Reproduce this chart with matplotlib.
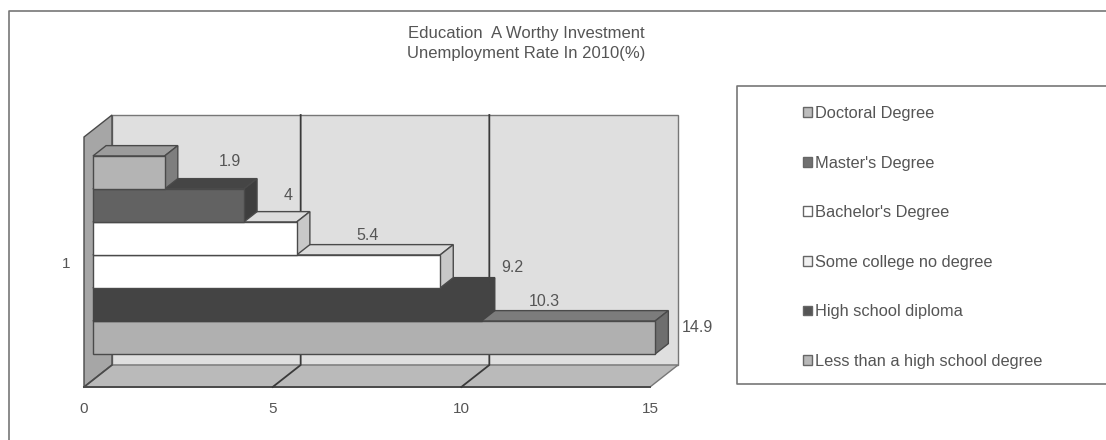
import matplotlib
matplotlib.use("Agg")
import matplotlib.pyplot as plt
from matplotlib.lines import Line2D
from matplotlib.patches import Patch, Polygon

series_names = ["Doctoral Degree", "Master's Degree", "Bachelor's Degree",
                "Some college no degree", "High school diploma",
                "Less than a high school degree"]
rates = [1.9, 4, 5.4, 9.2, 10.3, 14.9]
value_ticks = [0, 5, 10, 15]
category_ticks = [1]
title_text = "Education  A Worthy Investment\nUnemployment Rate In 2010(%)"

W, H = 1106, 440
FRONT = (84, 650, 137, 387)          # front plane in pixels: left, right, top, bottom
DEPTH_PX = (28, 22)
PX_X = 15 / (FRONT[1] - FRONT[0])
PX_Y = 1 / (FRONT[3] - FRONT[2])
DX, DY = DEPTH_PX[0] * PX_X, DEPTH_PX[1] * PX_Y
Z0, Z1 = 0.32, 0.79                  # bar position along the depth
BAR_H = 33 * PX_Y

front_col = ["#b4b4b4", "#626262", "#ffffff", "#ffffff", "#444444", "#b0b0b0"]
top_col = ["#9c9c9c", "#454545", "#dcdcdc", "#dcdcdc", "#444444", "#7c7c7c"]
side_col = ["#7e7e7e", "#3e3e3e", "#c8c8c8", "#c8c8c8", "#444444", "#6e6e6e"]
edge_col = ["#4a4a4a", "#4a4a4a", "#4a4a4a", "#4a4a4a", "#444444", "#4a4a4a"]
legend_col = ["#bdbdbd", "#707070", "#ffffff", "#f0f0f0", "#555555", "#b8b8b8"]
label_dx = [65, 44, 71, 72, 63, 42]
label_y = [161, 196, 235, 268, 302, 327]
TXT = "#555555"
EDGE = "#4a4a4a"
FONT = "Liberation Sans"

plt.rcParams["font.family"] = FONT
fig = plt.figure(figsize=(W / 100, H / 100), dpi=100, facecolor="white")
ax = fig.add_axes([FRONT[0] / W, 1 - FRONT[3] / H,
                   (FRONT[1] - FRONT[0]) / W, (FRONT[3] - FRONT[2]) / H])
ax.set_xlim(0, 15)
ax.set_ylim(0.5, 1.5)
ax.patch.set_visible(False)
for s in ax.spines.values():
    s.set_visible(False)
ax.set_xticks(value_ticks)
ax.set_yticks(category_ticks)
ax.tick_params(axis="x", length=0, pad=11, labelsize=11, labelcolor=TXT)
ax.tick_params(axis="y", length=0, pad=10, labelsize=11, labelcolor=TXT)


def poly(points, fc, z, ec=EDGE, lw=1.0):
    ax.add_patch(Polygon(points, closed=True, facecolor=fc, edgecolor=ec,
                         linewidth=lw, zorder=z, clip_on=False))


y0, y1 = 0.5, 1.5
# walls and floor
poly([(DX, y0 + DY), (15 + DX, y0 + DY), (15 + DX, y1 + DY), (DX, y1 + DY)], "#dfdfdf", 1, ec="#777777")
poly([(0, y0), (DX, y0 + DY), (DX, y1 + DY), (0, y1)], "#a6a6a6", 1.1)
poly([(0, y0), (15, y0), (15 + DX, y0 + DY), (DX, y0 + DY)], "#bababa", 1.2, ec="#777777")
ax.plot([0, 15], [y0, y0], color=EDGE, lw=1.4, zorder=1.3, clip_on=False)
ax.plot([0, DX], [y0, y0 + DY], color=EDGE, lw=1.2, zorder=1.3, clip_on=False)
for t in value_ticks[1:3]:
    ax.plot([t, t + DX, t + DX], [y0, y0 + DY, y1 + DY], color="#3a3a3a", lw=1.3, zorder=1.4, clip_on=False)

# bars, bottom one first so that the upper ones overlap its top face
n = len(rates)
offset_x, offset_y = Z0 * DX, Z0 * DY
ddx, ddy = (Z1 - Z0) * DX, (Z1 - Z0) * DY
for i in reversed(range(n)):
    v = rates[i]
    c = 1 + offset_y + (n / 2 - i - 0.5) * BAR_H
    b, t = c - BAR_H / 2, c + BAR_H / 2
    z = 3 + (n - i)
    l = offset_x
    r = l + v
    ax.barh(c, v, height=BAR_H, left=l, color=front_col[i], edgecolor=edge_col[i],
            linewidth=1.0, zorder=z + 0.2, clip_on=False)
    poly([(l, t), (r, t), (r + ddx, t + ddy), (l + ddx, t + ddy)], top_col[i], z, ec=edge_col[i])
    poly([(r, b), (r + ddx, b + ddy), (r + ddx, t + ddy), (r, t)], side_col[i], z + 0.1, ec=edge_col[i])
    ax.text(r + label_dx[i] * PX_X, 0.5 + (FRONT[3] - label_y[i]) * PX_Y, str(v),
            ha="center", va="center", fontsize=11.5, color=TXT, zorder=30, clip_on=False)

fig.text(526 / W, 1 - 43.5 / H, title_text, ha="center", va="center", fontsize=12,
         color=TXT, linespacing=1.4)

# frame of the whole chart and of the legend
frame = dict(color="#777777", lw=1.2, transform=fig.transFigure)
fig.add_artist(Line2D([9 / W, 9 / W, 1], [0, 1 - 11 / H, 1 - 11 / H], **frame))
fig.add_artist(Line2D([1, 737 / W, 737 / W, 1],
                      [1 - 86 / H, 1 - 86 / H, 1 - 384 / H, 1 - 384 / H], **frame))

handles = [Patch(facecolor=legend_col[i], edgecolor="#666666", linewidth=1.0) for i in range(n)]
fig.legend(handles, series_names, loc="upper left",
           bbox_to_anchor=(803 / W, 1 - 106 / H), frameon=False, fontsize=11.8,
           labelcolor=TXT, labelspacing=2.11, handlelength=0.55, handleheight=0.55,
           handletextpad=0.2, borderpad=0, borderaxespad=0)

fig.savefig("out.png", dpi=100)
